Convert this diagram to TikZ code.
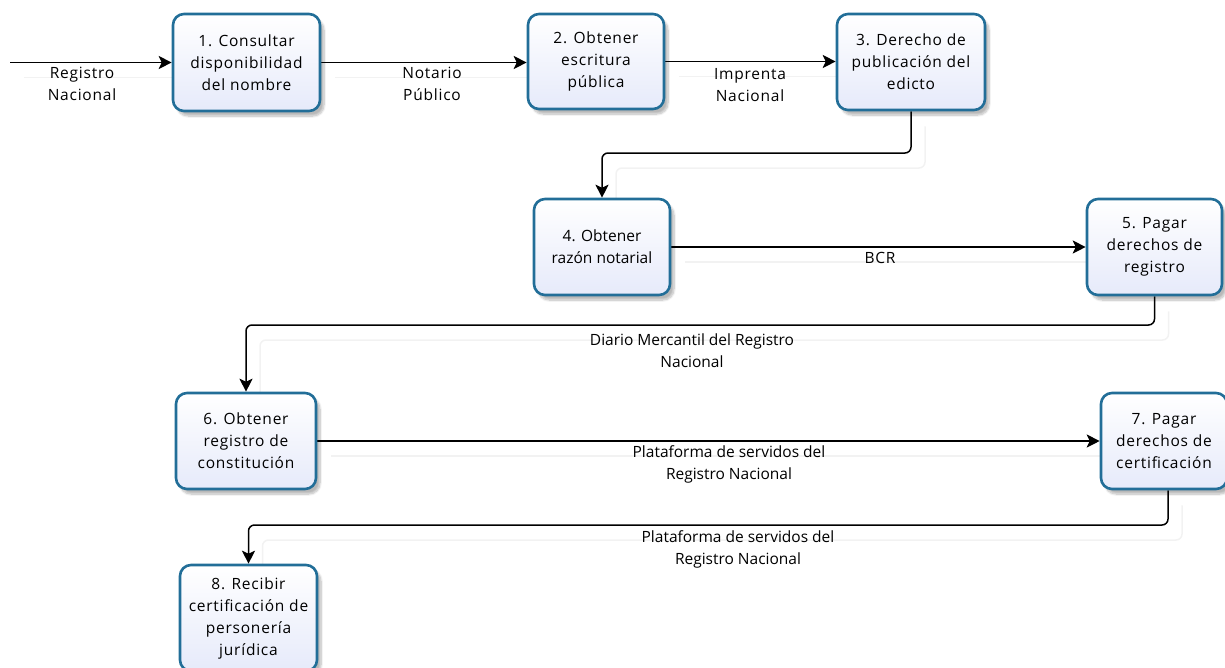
\documentclass[tikz,border=0pt]{standalone}
\usepackage{fontspec}
\setmainfont{Open Sans}
\newfontfamily\spacedfont[LetterSpace=5]{Open Sans}
\usetikzlibrary{arrows.meta,shadows.blur}
\pgfdeclarelayer{bg}
\pgfsetlayers{bg,main}
\definecolor{boxline}{RGB}{34,110,152}
\definecolor{boxfill}{RGB}{230,234,250}
\tikzset{
  stepbox/.style={draw=boxline, line width=2.6pt, rounded corners=11pt,
    top color=white, bottom color=boxfill, align=center,
    font=\spacedfont\fontsize{15.5}{22}\selectfont, inner sep=2pt,
    blur shadow={shadow blur steps=8, shadow xshift=4pt, shadow yshift=-5pt, shadow opacity=28}},
  flow/.style={line width=1.5pt, black, rounded corners=6pt,
    -{Stealth[length=13pt,width=13pt,inset=3pt]},
    preaction={draw=black!5, line width=1.5pt, -, transform canvas={shift={(14pt,-15pt)}}}},
  lbl/.style={align=center, font=\fontsize{15.5}{22}\selectfont, inner sep=0pt},
  shortlbl/.style={lbl, font=\spacedfont\fontsize{15.5}{22}\selectfont}
}
\begin{document}
\begin{tikzpicture}[x=1pt,y=-1pt]
\useasboundingbox (0,0) rectangle (1225,667);

% process steps
\node[stepbox, minimum width=147, minimum height=97] (n1) at (246.5,62.5) {1. Consultar\\disponibilidad\\del nombre};
\node[stepbox, minimum width=136, minimum height=95] (n2) at (596,61.5) {2. Obtener\\escritura\\pública};
\node[stepbox, minimum width=148, minimum height=96] (n3) at (911,62) {3. Derecho de\\publicación del\\edicto};
\node[stepbox, minimum width=136, minimum height=96, font=\fontsize{15.5}{22}\selectfont] (n4) at (602,247) {4. Obtener\\razón notarial};
\node[stepbox, minimum width=135, minimum height=96] (n5) at (1154.5,247) {5. Pagar\\derechos de\\registro};
\node[stepbox, minimum width=140, minimum height=96] (n6) at (246,441) {6. Obtener\\registro de\\constitución};
\node[stepbox, minimum width=126, minimum height=96] (n7) at (1164,441) {7. Pagar\\derechos de\\certificación};
\node[stepbox, minimum width=137, minimum height=106] (n8) at (248.5,618) {8. Recibir\\certificación de\\personería\\jurídica};

% routing points
\coordinate (start) at (10,62.5);
\coordinate (r34) at (700,153);
\coordinate (r56) at (700,325);
\coordinate (r78) at (700,525);

% connectors
\begin{pgfonlayer}{bg}
\draw[flow] (start) -- (n1.west);
\draw[flow] (n1.east) -- (n2.west |- n1.east);
\draw[flow] (n2.east) -- (n3.west |- n2.east);
\draw[flow] (n3.south) |- (r34) -| (n4.north);
\draw[flow] (n4.east) -- (n5.west);
\draw[flow] (n5.south) |- (r56) -| (n6.north);
\draw[flow] (n6.east) -- (n7.west);
\draw[flow] ([xshift=4pt]n7.south) |- (r78) -| (n8.north);
\end{pgfonlayer}

% connector labels
\node[shortlbl] (l0) at (82,84) {Registro\\Nacional};
\node[shortlbl] (l12) at (432,84) {Notario\\Público};
\node[shortlbl] (l23) at (750,85) {Imprenta\\Nacional};
\node[shortlbl] (l45) at (880,258) {BCR};
\node[lbl] (l56) at (692,351) {Diario Mercantil del Registro\\Nacional};
\node[lbl] (l67) at (729,464) {Plataforma de servidos del\\Registro Nacional};
\node[lbl] (l78) at (738,549) {Plataforma de servidos del\\Registro Nacional};
\end{tikzpicture}
\end{document}
